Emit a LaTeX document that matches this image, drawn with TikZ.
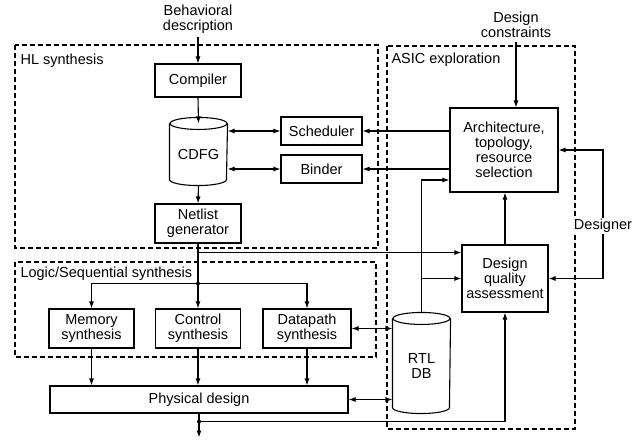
\documentclass[tikz,border=0pt]{standalone}
\usepackage{fontspec}
\setmainfont{Liberation Sans}
\usetikzlibrary{arrows.meta}

\begin{document}
\begin{tikzpicture}[x=1pt, y=-1pt, line width=1.1pt,
	font=\fontsize{14.5}{15}\selectfont,
	>={Latex[length=7pt,width=5pt]},
	box/.style={draw, fill=white, align=center, inner sep=0pt},
	drum/.style={align=center, inner sep=0pt, minimum width=57pt},
	region/.style={draw, dash pattern=on 5pt off 3pt},
	tag/.style={anchor=west, inner sep=0pt},
	dot/.style={circle, fill, inner sep=0pt, minimum size=4pt}]
	
	\useasboundingbox (0,0) rectangle (642,442);
	
	% Dashed regions
	\draw[region] (15,45) rectangle (378,248);
	\draw[region] (15,262) rectangle (376,357);
	\draw[region] (387,46) rectangle (575,429);
	\node[tag] (hltag) at (20,61) {HL synthesis};
	\node[tag] (lstag) at (20,274) {Logic/Sequential synthesis};
	\node[tag] (asictag) at (391,60) {ASIC exploration};
	
	% Inputs
	\node[align=center] (behav) at (198,19) {Behavioral\\description};
	\node[align=center] (constr) at (516,25) {Design\\constraints};
	
	% HL synthesis
	\node[box, minimum width=86pt, minimum height=33pt] (comp) at (198,80.5) {Compiler};
	\node[drum, minimum height=61pt] (cdfg) at (198.5,154.5) {CDFG};
	\node[box, minimum width=81pt, minimum height=28pt] (sched) at (321.5,131) {Scheduler};
	\node[box, minimum width=81pt, minimum height=28pt] (binder) at (321.5,169) {Binder};
	\node[box, minimum width=86pt, minimum height=39pt] (netlist) at (198,223.5) {Netlist\\generator};
	
	% Logic/Sequential synthesis
	\node[box, minimum width=85pt, minimum height=39pt] (mem) at (91.5,328.5) {Memory\\synthesis};
	\node[box, minimum width=85pt, minimum height=39pt] (ctrl) at (198,328.5) {Control\\synthesis};
	\node[box, minimum width=88pt, minimum height=39pt] (dp) at (307,328.5) {Datapath\\synthesis};
	\node[box, minimum width=298pt, minimum height=27pt] (phys) at (199,399.5) {Physical design};
	\node[drum, minimum height=94pt] (rtl) at (421.5,366) {RTL\\DB};
	
	% ASIC exploration
	\node[box, minimum width=108pt, minimum height=84pt] (arch) at (504,150) {Architecture,\\topology,\\resource\\selection};
	\node[box, minimum width=86pt, minimum height=67pt] (dqa) at (505,278.5) {Design\\quality\\assessment};
	\node[fill=white, inner sep=1pt] (dsgn) at (603,226) {Designer};
	
	% Cylinder outlines
	\foreach \c in {cdfg,rtl}{
		\draw (\c.north) ellipse [x radius=28.5, y radius=6];
		\draw (\c.north west) -- ([yshift=6pt]\c.south west)
			arc [start angle=180, end angle=0, x radius=28.5, y radius=6] -- (\c.north east);
	}
	
	% HL flow
	\draw[->] (behav.south) -- (comp.north);
	\draw[->] (comp.south) -- (cdfg.north);
	\draw[->] (cdfg.south) -- (netlist.north);
	\draw[<->] (cdfg.east |- sched) -- (sched.west);
	\draw[<->] (cdfg.east |- binder) -- (binder.west);
	\draw[->] (arch.west |- sched) -- (sched.east);
	\draw[->] (arch.west |- binder) -- (binder.east);
	\draw[->] (constr.south) -- (constr.south |- arch.north);
	
	% Netlist fan-out
	\coordinate (tap) at ([yshift=-9pt]netlist.south);
	\coordinate (fork) at ([yshift=-40pt]netlist.south);
	\draw (netlist.south) -- (fork);
	\draw[->] (tap) -- (tap -| dqa.west);
	\draw[->] (fork) -- (ctrl.north);
	\draw[->] (fork) -| (mem.north);
	\draw[->] (fork) -| (dp.north);
	\node[dot] (forkdot) at (fork) {};
	
	% Down to physical design
	\foreach \s in {mem,ctrl,dp}
		\draw[->] (\s.south) -- (\s.south |- phys.north);
	\draw[<->] (dp.east) -- (dp.east -| rtl.west);
	\draw[<->] (phys.east) -- (phys.east -| rtl.west);
	
	% Physical design output
	\coordinate (out) at ([yshift=-8pt]phys.south);
	\draw[->] (phys.south) -- ([yshift=-24pt]phys.south);
	\draw[->] (out) -| (dqa.south);
	\node[dot] (outdot) at (out) {};
	
	% RTL DB feedback
	\draw[->] ([yshift=6pt]rtl.north) |- ([yshift=-30pt]arch.west);
	\draw[->] (rtl.north |- dqa.west) -- (dqa.west);
	\draw[->] (dqa.north) -- (dqa.north |- arch.south);
	
	% Designer
	\draw[->] (dsgn.north) |- (arch.east);
	\draw[->] (dsgn.south) |- (dqa.east);
\end{tikzpicture}
\end{document}
